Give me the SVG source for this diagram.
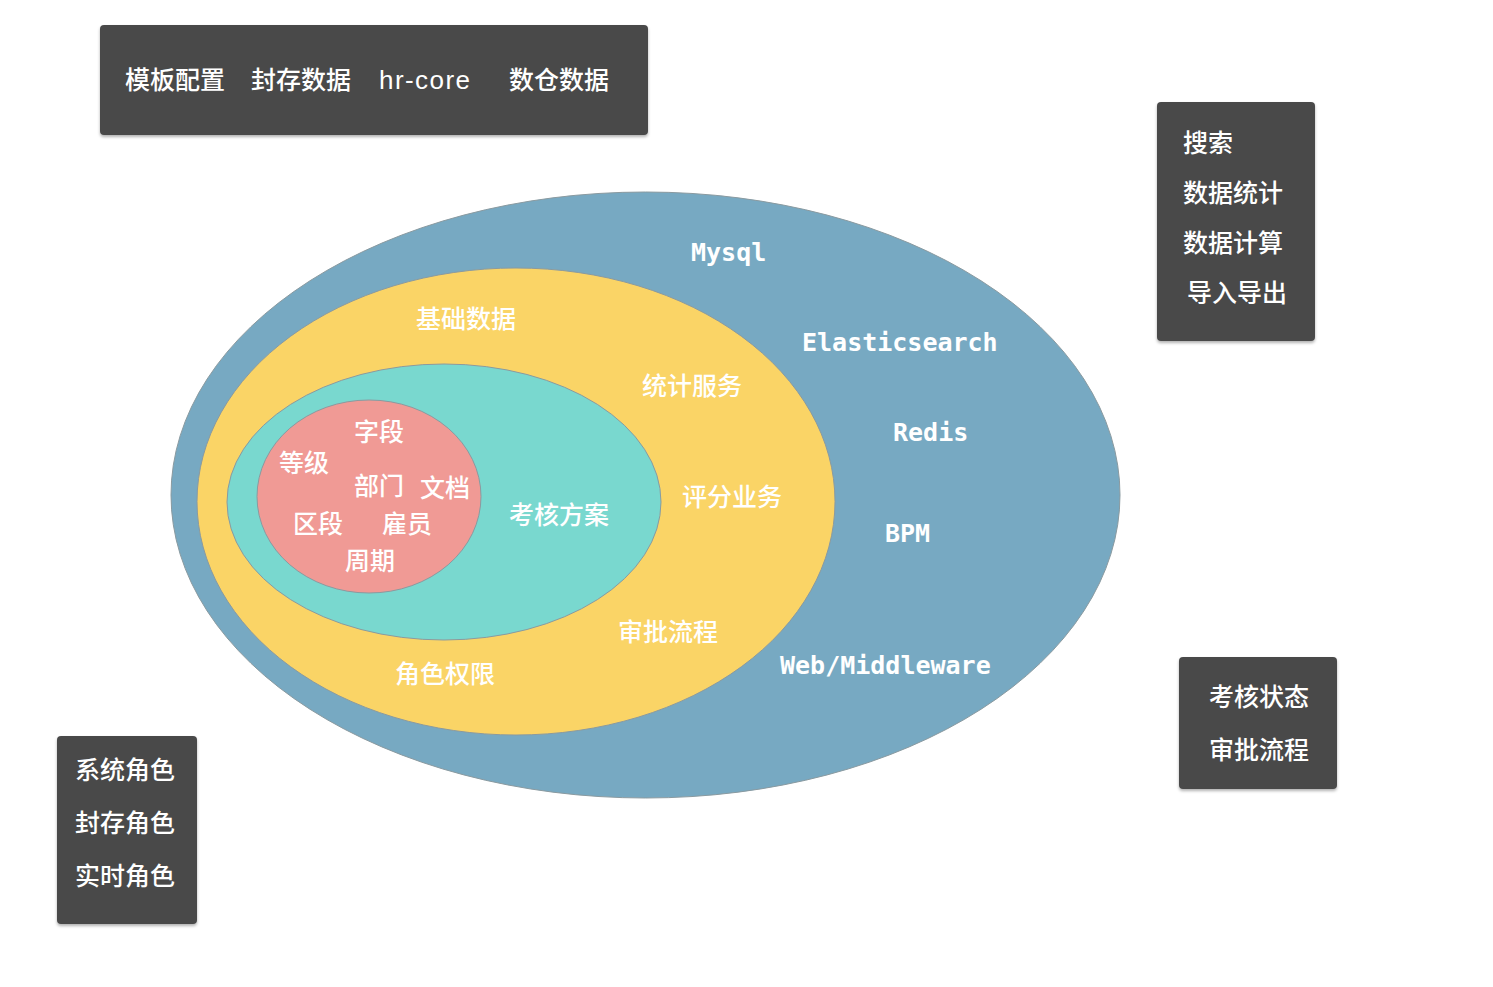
<svg xmlns="http://www.w3.org/2000/svg" width="1493" height="987" viewBox="0 0 1493 987">
<style>
.box{fill:#4a4a4a;}
.cn{font-family:"Noto Sans CJK SC","Liberation Sans",sans-serif;font-size:25px;font-weight:500;fill:#ffffff;}
.lat{font-family:"Liberation Sans","Noto Sans CJK SC",sans-serif;font-size:26px;fill:#ffffff;}
.mono{font-family:"DejaVu Sans Mono","Liberation Mono",monospace;font-size:25px;font-weight:bold;fill:#ffffff;}
.ell{stroke:#8a9aa0;stroke-width:1;}
</style>
<defs>
<filter id="sh" x="-10%" y="-10%" width="120%" height="130%">
<feDropShadow dx="0" dy="2" stdDeviation="1.5" flood-color="#000" flood-opacity="0.3"/>
</filter>
</defs>
<rect width="1493" height="987" fill="#ffffff"/>
<g id="ellipses">
<ellipse id="outer" class="ell" cx="645.5" cy="495" rx="474.5" ry="303" fill="#77a9c2"/>
<ellipse id="yellow" class="ell" cx="516" cy="501.5" rx="319" ry="233.5" fill="#fad466" stroke="#d9b455"/>
<ellipse id="teal" class="ell" cx="444" cy="502" rx="217" ry="138" fill="#79d8cf"/>
<ellipse id="pink" class="ell" cx="369" cy="496.5" rx="112" ry="96.5" fill="#f09a95"/>
</g>
<g id="outer-labels">
<text class="mono" x="691" y="261">Mysql</text>
<text class="mono" x="802" y="351">Elasticsearch</text>
<text class="mono" x="893" y="441">Redis</text>
<text class="mono" x="885" y="542">BPM</text>
<text class="mono" x="780" y="674">Web/Middleware</text>
</g>
<g id="yellow-labels">
<text class="cn" x="416" y="328">基础数据</text>
<text class="cn" x="642" y="395">统计服务</text>
<text class="cn" x="682" y="506">评分业务</text>
<text class="cn" x="618" y="641">审批流程</text>
<text class="cn" x="395" y="683">角色权限</text>
</g>
<g id="teal-labels">
<text class="cn" x="509" y="524">考核方案</text>
</g>
<g id="pink-labels">
<text class="cn" x="354" y="441">字段</text>
<text class="cn" x="279" y="472">等级</text>
<text class="cn" x="354" y="495">部门</text>
<text class="cn" x="420" y="497">文档</text>
<text class="cn" x="293" y="533">区段</text>
<text class="cn" x="382" y="533">雇员</text>
<text class="cn" x="345" y="570">周期</text>
</g>
<g id="box-top">
<rect class="box" x="100" y="25" width="548" height="110" rx="4" filter="url(#sh)"/>
<text class="cn" x="125" y="89">模板配置</text>
<text class="cn" x="251" y="89">封存数据</text>
<text class="lat" x="379" y="89" textLength="91" lengthAdjust="spacing">hr-core</text>
<text class="cn" x="509" y="89">数仓数据</text>
</g>
<g id="box-right-top">
<rect class="box" x="1157" y="102" width="158" height="239" rx="4" filter="url(#sh)"/>
<text class="cn" x="1183" y="152">搜索</text>
<text class="cn" x="1183" y="202">数据统计</text>
<text class="cn" x="1183" y="252">数据计算</text>
<text class="cn" x="1187" y="302">导入导出</text>
</g>
<g id="box-left-bottom">
<rect class="box" x="57" y="736" width="140" height="188" rx="4" filter="url(#sh)"/>
<text class="cn" x="75" y="779">系统角色</text>
<text class="cn" x="75" y="832">封存角色</text>
<text class="cn" x="75" y="885">实时角色</text>
</g>
<g id="box-right-bottom">
<rect class="box" x="1179" y="657" width="158" height="132" rx="4" filter="url(#sh)"/>
<text class="cn" x="1209" y="706">考核状态</text>
<text class="cn" x="1209" y="759">审批流程</text>
</g>
<g id="connectors"></g>
</svg>
